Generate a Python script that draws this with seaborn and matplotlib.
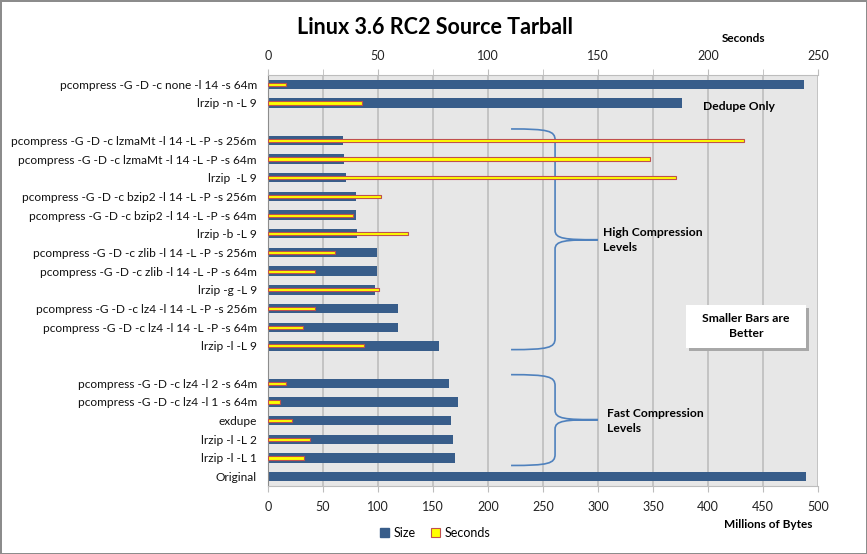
import seaborn as sns
import matplotlib.pyplot as plt
import pandas as pd
from matplotlib.patches import Patch, PathPatch, Rectangle
from matplotlib.path import Path

# Veriler
commands = [
    "pcompress -G -D -c none -l 14 -s 64m",
    "lrzip -n -L 9",
    " ",
    "pcompress -G -D -c lzmaMt -l 14 -L -P -s 256m",
    "pcompress -G -D -c lzmaMt -l 14 -L -P -s 64m",
    "lrzip  -L 9",
    "pcompress -G -D -c bzip2 -l 14 -L -P -s 256m",
    "pcompress -G -D -c bzip2 -l 14 -L -P -s 64m",
    "lrzip -b -L 9",
    "pcompress -G -D -c zlib -l 14 -L -P -s 256m",
    "pcompress -G -D -c zlib -l 14 -L -P -s 64m",
    "lrzip -g -L 9",
    "pcompress -G -D -c lz4 -l 14 -L -P -s 256m",
    "pcompress -G -D -c lz4 -l 14 -L -P -s 64m",
    "lrzip -l -L 9",
    "  ",
    "pcompress -G -D -c lz4 -l 2 -s 64m",
    "pcompress -G -D -c lz4 -l 1 -s 64m",
    "exdupe",
    "lrzip -l -L 2",
    "lrzip -l -L 1",
    "Original",
]
size_mb = [487, 376, None, 68, 69, 71, 80, 80, 81, 99.5, 99.5, 97, 118.5, 118.5, 155.8,
           None, 164.5, 172.7, 166.4, 168.2, 170, 489]
seconds = [8.2, 42.6, None, 216.4, 173.5, 185.6, 51.4, 38.6, 63.8, 30.6, 21.5, 50.6, 21.5, 16,
           43.8, None, 8.2, 5.5, 10.9, 19.1, 16.4, None]

df = pd.DataFrame({"command": commands, "size": size_mb, "seconds": seconds})

plt.rcParams['font.family'] = ['Lato', 'DejaVu Sans']

blue = "#385D8A"
yellow = "#FFFF00"
red_edge = "#C0504D"
brace_col = "#4F81BD"

fig = plt.figure(figsize=(8.67, 5.54), dpi=100, facecolor="white", edgecolor="#8C8C8C", linewidth=2)
ax = fig.add_axes([0.309, 0.1227, 0.6345, 0.742])
ax.set_facecolor("#E7E7E7")
ax.set_axisbelow(True)

sns.barplot(data=df, x="size", y="command", order=commands, color=blue, saturation=1,
            width=0.5, errorbar=None, ax=ax)

ax2 = ax.twiny()
sns.barplot(data=df, x="seconds", y="command", order=commands, color=yellow, saturation=1,
            width=0.17, errorbar=None, edgecolor=red_edge, linewidth=0.8, ax=ax2)

# eksenler
ax.set_xlim(0, 500)
ax2.set_xlim(0, 250)
ax.set_xticks(range(0, 501, 50))
ax2.set_xticks(range(0, 251, 50))
ax2.set_xticks(range(0, 251, 25), minor=True)
ax.set_xlabel("")
ax.set_ylabel("")
ax2.set_xlabel("")
ax2.set_ylabel("")
ax.grid(axis="x", color="#BDBDBD", linewidth=1.2)
ax.grid(axis="y", visible=False)

for a in (ax, ax2):
    for s in a.spines.values():
        s.set_visible(False)
ax.spines["left"].set_visible(True)
ax.spines["left"].set_color("#8C8C8C")
ax.spines["bottom"].set_visible(True)
ax.spines["bottom"].set_color("#BDBDBD")
ax2.spines["top"].set_visible(True)
ax2.spines["top"].set_color("#BDBDBD")

ax.tick_params(axis="x", direction="out", length=4, color="#BDBDBD", labelsize=9,
               labelcolor="#222222", pad=7)
ax.tick_params(axis="y", length=0, labelsize=8.6, labelcolor="#111111", pad=8)
ax2.tick_params(axis="x", which="both", direction="out", length=4, color="#BDBDBD",
                labelsize=9, labelcolor="#222222", pad=5)

# süslü parantezler
def brace(y0, y1, ytip, x0=221, xv=261, xt=300):
    verts = [(x0, y0), (255, y0), (xv, y0 + 0.1), (xv, y0 + 0.6),
             (xv, ytip - 0.5),
             (xv, ytip - 0.05), (270, ytip), (xt, ytip),
             (270, ytip), (xv, ytip + 0.05), (xv, ytip + 0.5),
             (xv, y1 - 0.6),
             (xv, y1 - 0.1), (255, y1), (x0, y1)]
    codes = [Path.MOVETO, Path.CURVE4, Path.CURVE4, Path.CURVE4,
             Path.LINETO,
             Path.CURVE4, Path.CURVE4, Path.CURVE4,
             Path.CURVE4, Path.CURVE4, Path.CURVE4,
             Path.LINETO,
             Path.CURVE4, Path.CURVE4, Path.CURVE4]
    ax.add_patch(PathPatch(Path(verts, codes), fill=False, edgecolor=brace_col, linewidth=1.2))

brace(2.39, 14.2, 8.32)
brace(15.54, 20.4, 17.95)

ax.text(395.5, 1.2, "Dedupe Only", fontsize=8.7, fontweight="bold", va="center", ha="left")
ax.text(304.5, 8.35, "High Compression\nLevels", fontsize=8.7, fontweight="bold",
        va="center", ha="left", linespacing=1.45)
ax.text(308, 18.0, "Fast Compression\nLevels", fontsize=8.7, fontweight="bold",
        va="center", ha="left", linespacing=1.45)

# "Smaller Bars are Better" kutusu (gölgeli)
ax.add_patch(Rectangle((382.5, 11.95), 109, 2.3, facecolor="#A8A8A8", edgecolor="none", zorder=2.9))
ax.add_patch(Rectangle((380, 11.8), 109, 2.3, facecolor="white", edgecolor="none", zorder=3))
ax.text(434.5, 12.95, "Smaller Bars are\nBetter", fontsize=8.7, fontweight="bold",
        ha="center", va="center", linespacing=1.45, zorder=4)

fig.text(0.5017, 0.951, "Linux 3.6 RC2 Source Tarball", fontsize=15.5, fontweight="bold",
         ha="center", va="center")
fig.text(0.858, 0.931, "Seconds", fontsize=8.5, fontweight="bold", ha="center", va="center")
fig.text(0.886, 0.054, "Millions of Bytes", fontsize=8.5, fontweight="bold", ha="center", va="center")

handles = [Patch(facecolor=blue, edgecolor=blue, label="Size"),
           Patch(facecolor=yellow, edgecolor=red_edge, linewidth=0.8, label="Seconds")]
fig.legend(handles=handles, loc="center", bbox_to_anchor=(0.502, 0.038), ncol=2, frameon=False,
           fontsize=9, handlelength=0.7, handleheight=0.7, handletextpad=0.4, columnspacing=1.2)

fig.savefig("out.png", dpi=100)
